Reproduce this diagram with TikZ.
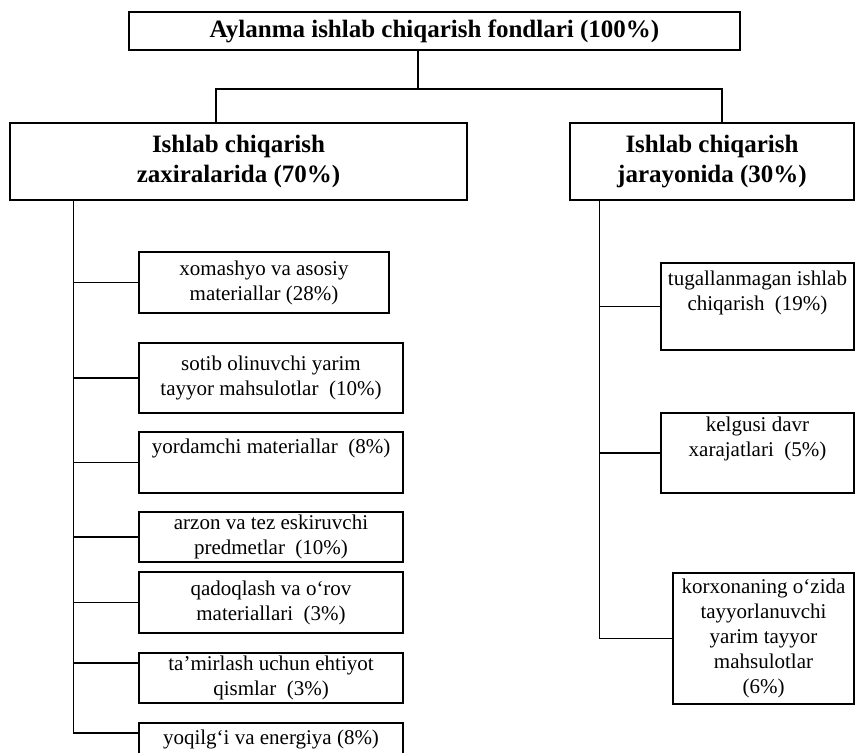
\documentclass[tikz,border=0pt]{standalone}
\usepackage{fontspec}
\setmainfont{Liberation Serif}
\usepackage{tikz}
\usetikzlibrary{positioning, calc}

\begin{document}
\begin{tikzpicture}[x=1pt, y=-1pt,
    headbox/.style={draw, line width=1.3pt, align=center, inner sep=2pt,
      font=\fontsize{25}{30}\selectfont\bfseries},
    itembox/.style={draw, line width=1.1pt, align=center, inner sep=2pt,
      font=\fontsize{21}{25}\selectfont},
    link/.style={line width=1.1pt}
  ]
    \useasboundingbox (0,0) rectangle (856,752);
    \clip (0,0) rectangle (856,752);

    % top level
    \node[headbox, minimum width=611pt, minimum height=38pt] (fund)
      at (434.5,31) {Aylanma ishlab chiqarish fondlari (100\%)};
    \node[headbox, minimum width=457pt, minimum height=77pt] (zaxira)
      at (238.5,161.5) {Ishlab chiqarish\\zaxiralarida (70\%)};
    \node[headbox, minimum width=284pt, minimum height=77pt] (jarayon)
      at (712,161.5) {Ishlab chiqarish\\jarayonida (30\%)};

    % left column
    \node[itembox, minimum width=250pt, minimum height=61pt] (m1)
      at (264,282.5) {xomashyo va asosiy\\materiallar (28\%)};
    \node[itembox, minimum width=264pt, minimum height=70pt] (m2)
      at (271,378) {sotib olinuvchi yarim\\tayyor mahsulotlar \ (10\%)};
    \node[itembox, minimum width=264pt, minimum height=61pt] (m3)
      at (271,462.5) {yordamchi materiallar \ (8\%)\\\strut};
    \node[itembox, minimum width=264pt, minimum height=50pt] (m4)
      at (271,537) {arzon va tez eskiruvchi\\predmetlar \ (10\%)};
    \node[itembox, minimum width=264pt, minimum height=61pt] (m5)
      at (271,602.5) {qadoqlash va o‘rov\\materiallari \ (3\%)};
    \node[itembox, minimum width=264pt, minimum height=50pt] (m6)
      at (271,678) {ta’mirlash uchun ehtiyot\\qismlar \ (3\%)};
    \node[itembox, minimum width=264pt, minimum height=32pt] (m7)
      at (271,739) {yoqilg‘i va energiya (8\%)};

    % right column
    \node[itembox, minimum width=193pt, minimum height=87pt] (r1)
      at (757.5,306.5) {tugallanmagan ishlab\\chiqarish \ (19\%)\\\strut};
    \node[itembox, minimum width=193pt, minimum height=80pt] (r2)
      at (757.5,453) {kelgusi davr\\xarajatlari \ (5\%)\\\strut};
    \node[itembox, minimum width=181pt, minimum height=131pt] (r3)
      at (763.5,638.5) {korxonaning o‘zida\\tayyorlanuvchi\\yarim tayyor\\mahsulotlar\\(6\%)};

    % connectors
    \coordinate (split) at (418,89);
    \draw[link] (fund.south -| split) -- (split);
    \draw[link] ([xshift=-22.5pt]zaxira.north) |- (split)
      -| ([xshift=10pt]jarayon.north);

    \coordinate (lspine) at ([xshift=64pt]zaxira.south west);
    \draw[link] (lspine) |- ([yshift=6pt]m7.west);
    \foreach \n in {1,...,5}
      \draw[link] (m\n.west -| lspine) -- (m\n.west);
    \draw[link] ([yshift=15pt]m6.west -| lspine) -- ([yshift=15pt]m6.west);

    \coordinate (rspine) at ([xshift=30pt]jarayon.south west);
    \draw[link] (rspine) |- (r3.west);
    \draw[link] (r1.west -| rspine) -- (r1.west);
    \draw[link] (r2.west -| rspine) -- (r2.west);
  \end{tikzpicture}
\end{document}
